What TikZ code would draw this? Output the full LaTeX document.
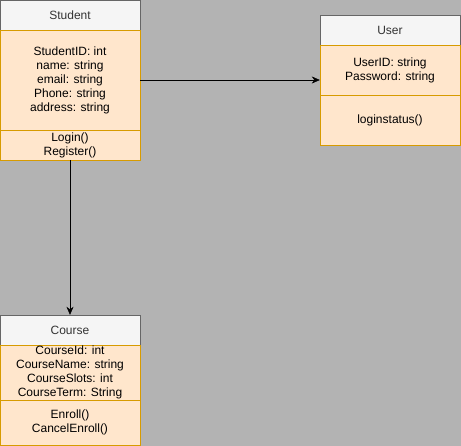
\documentclass[tikz,border=0pt]{standalone}
\usepackage{fontspec}
\setmainfont{Liberation Sans}
\usetikzlibrary{arrows.meta}
\definecolor{headfill}{HTML}{F5F5F5}
\definecolor{headline}{HTML}{666666}
\definecolor{bodyfill}{HTML}{FFE6CC}
\definecolor{bodyline}{HTML}{D79B00}
\definecolor{backgr}{HTML}{B3B3B3}

\begin{document}
\begin{tikzpicture}[x=1pt, y=-1pt,
  head/.style={draw=headline, fill=headfill, text=black!80, minimum width=140pt, inner sep=0pt},
  body/.style={draw=bodyline, fill=bodyfill, minimum width=140pt, inner sep=0pt, align=center},
  link/.style={-{Stealth[length=8pt,width=7pt,inset=2.5pt]}},
  font=\fontsize{12}{14}\selectfont]
\fill[backgr] (0,0) rectangle (461,446);
\useasboundingbox (0,0) rectangle (461,446);

%%%%%%%%%%%%%%%%%%%%%%%%%%%%%%%
% Student
\node[head, minimum height=30pt] (stuhead) at (70,15) {Student};
\node[body, minimum height=100pt] (stuattr) at (70,80)
{StudentID: int\\ name: string\\ email: string\\ Phone: string\\ address: string};
\node[body, minimum height=30pt] (stumeth) at (70,145) {Login()\\ Register()};

%%%%%%%%%%%%%%%%%%%%%%%%%%%%%%%
% User
\node[head, minimum height=30pt] (userhead) at (390,30) {User};
\node[body, minimum height=50pt] (userattr) at (390,70) {UserID: string\\ Password: string};
\node[body, minimum height=50pt] (usermeth) at (390,120) {loginstatus()};

%%%%%%%%%%%%%%%%%%%%%%%%%%%%%%%
% Course
\node[head, minimum height=30pt] (coursehead) at (70,330) {Course};
\node[body, minimum height=55pt] (courseattr) at (70,372.5)
{CourseId: int\\ CourseName: string\\ CourseSlots: int\\ CourseTerm: String};
\node[body, minimum height=45pt] (coursemeth) at (70,422.5) {Enroll()\\ CancelEnroll()};

%%%%%%%%%%%%%%%%%%%%%%%%%%%%%%%
\draw[link] (stuattr.east) -- (stuattr.east -| userattr.west);
\draw[link] (stumeth.south) -- (coursehead.north);
\end{tikzpicture}
\end{document}
